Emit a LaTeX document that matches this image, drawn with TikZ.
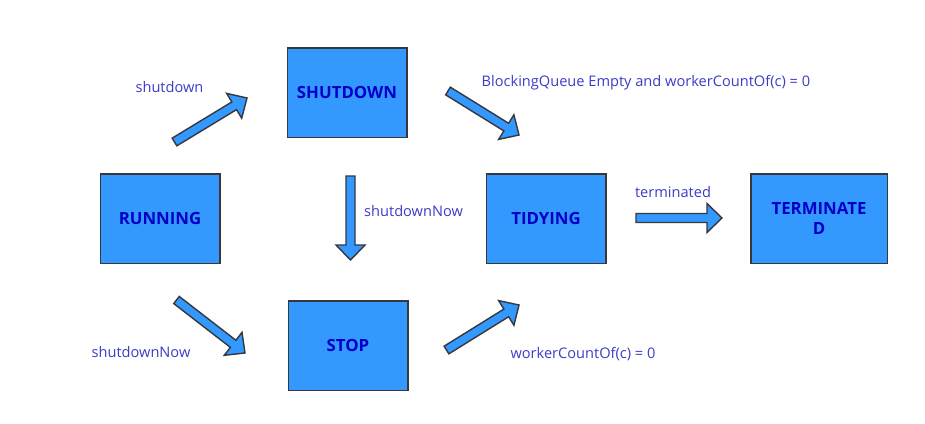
\documentclass[tikz,border=0pt]{standalone}
\usepackage{fontspec}
\setmainfont{Open Sans}
\usetikzlibrary{calc}
\definecolor{boxfill}{RGB}{51,153,255}
\definecolor{boxline}{RGB}{55,55,60}
\definecolor{boxtext}{RGB}{0,0,200}
\definecolor{labeltext}{RGB}{60,60,200}
\tikzset{
  statebox/.style={draw=boxline, line width=1.5pt, fill=boxfill, minimum width=119.5pt,
    minimum height=89.5pt, inner sep=0pt, align=center, text=boxtext,
    font=\bfseries\fontsize{16.8}{20}\selectfont},
  lbl/.style={inner sep=0pt, text=labeltext, font=\fontsize{14.6}{17}\selectfont},
  blockarrowstyle/.style={draw=boxline, line width=1.4pt, fill=boxfill, line join=miter}
}
\newcommand{\blockarrow}[2]{%
  \coordinate (bh) at ($(#2)!15pt!(#1)$);
  \draw[blockarrowstyle] ($(#1)!4.5pt!90:(#2)$) -- ($(bh)!4.5pt!90:(#2)$) -- ($(bh)!14.5pt!90:(#2)$) -- (#2) -- ($(bh)!14.5pt!-90:(#2)$) -- ($(bh)!4.5pt!-90:(#2)$) -- ($(#1)!4.5pt!-90:(#2)$) -- cycle;}
\begin{document}
\begin{tikzpicture}[x=1pt,y=-1pt]
\useasboundingbox (0,0) rectangle (925,423);
\fill[white] (0,0) rectangle (925,423);
% states
\node[statebox] (running) at (160,218.5) {RUNNING};
\node[statebox] (shutdown) at (347,92.5) {SHUTDOWN};
\node[statebox] (stop) at (348,345.5) {STOP};
\node[statebox] (tidying) at (546,218.5) {TIDYING};
\node[statebox, minimum width=136.5pt] (terminated) at (819,218.5) {TERMINATE\\D};
% arrow coordinates
\coordinate (a1t) at (174.5,142); \coordinate (a1h) at (247,98);
\coordinate (a2t) at (350.5,176); \coordinate (a2h) at (350.5,260);
\coordinate (a3t) at (448,91);    \coordinate (a3h) at (519,135);
\coordinate (a4t) at (636,218);   \coordinate (a4h) at (722,218);
\coordinate (a5t) at (176.5,300); \coordinate (a5h) at (245,353);
\coordinate (a6t) at (446.5,350); \coordinate (a6h) at (519,305);
\blockarrow{a1t}{a1h}
\blockarrow{a2t}{a2h}
\blockarrow{a3t}{a3h}
\blockarrow{a4t}{a4h}
\blockarrow{a5t}{a5h}
\blockarrow{a6t}{a6h}
% labels
\node[lbl] (l1) at (169.5,87) {shutdown};
\node[lbl, anchor=west] (l2) at (364,211) {shutdownNow};
\node[lbl, anchor=west] (l3) at (481.5,83) {BlockingQueue Empty and workerCountOf(c) = 0};
\node[lbl] (l4) at (673,192) {terminated};
\node[lbl] (l5) at (141,352) {shutdownNow};
\node[lbl] (l6) at (583,354) {workerCountOf(c) = 0};
\end{tikzpicture}
\end{document}
